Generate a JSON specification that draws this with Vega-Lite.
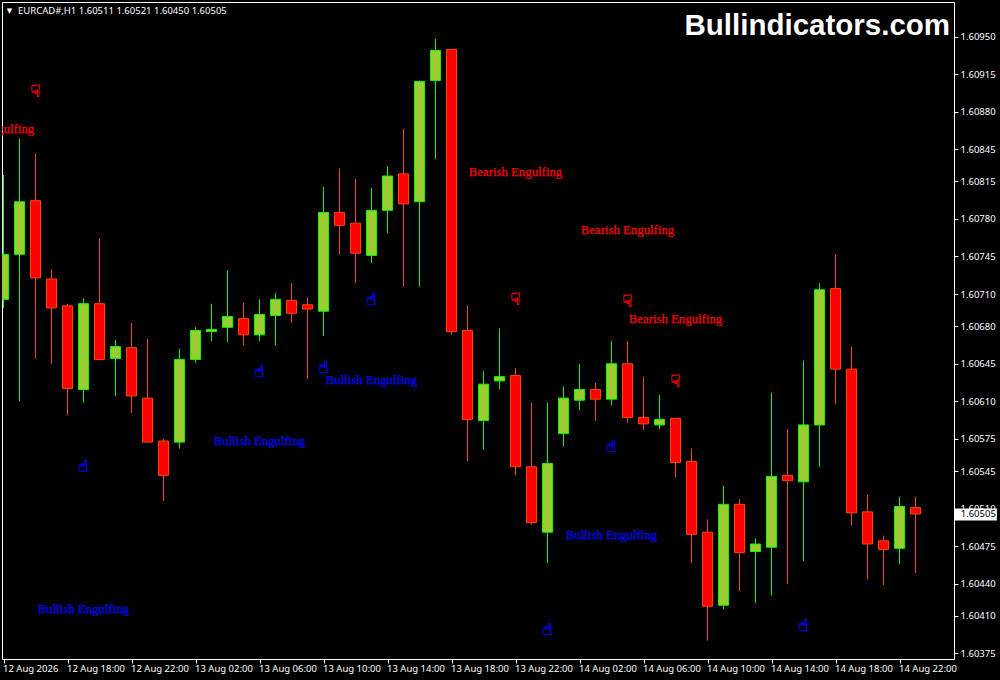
{"$schema":"https://vega.github.io/schema/vega-lite/v6.json","width":952,"height":657,"autosize":{"type":"none"},"padding":{"left":2,"top":2,"right":46,"bottom":21},"background":"#000000","view":{"stroke":"#FFFFFF","strokeWidth":1,"fill":"#000000"},"config":{"text":{"font":"Noto Sans"}},
"datasets":{"candles":[
{"t":"2026-08-12T14:00:00Z","o":1.60705,"h":1.60821,"l":1.60697,"c":1.60747,"d":"up"},
{"t":"2026-08-12T15:00:00Z","o":1.60747,"h":1.60855,"l":1.60610,"c":1.60796,"d":"up"},
{"t":"2026-08-12T16:00:00Z","o":1.60797,"h":1.60841,"l":1.60650,"c":1.60725,"d":"down"},
{"t":"2026-08-12T17:00:00Z","o":1.60724,"h":1.60733,"l":1.60645,"c":1.60697,"d":"down"},
{"t":"2026-08-12T18:00:00Z","o":1.60699,"h":1.60701,"l":1.60597,"c":1.60622,"d":"down"},
{"t":"2026-08-12T19:00:00Z","o":1.60621,"h":1.60706,"l":1.60609,"c":1.60701,"d":"up"},
{"t":"2026-08-12T20:00:00Z","o":1.60701,"h":1.60762,"l":1.60648,"c":1.60649,"d":"down"},
{"t":"2026-08-12T21:00:00Z","o":1.60650,"h":1.60667,"l":1.60615,"c":1.60661,"d":"up"},
{"t":"2026-08-12T22:00:00Z","o":1.60660,"h":1.60683,"l":1.60599,"c":1.60615,"d":"down"},
{"t":"2026-08-12T23:00:00Z","o":1.60613,"h":1.60668,"l":1.60572,"c":1.60572,"d":"down"},
{"t":"2026-08-13T00:00:00Z","o":1.60573,"h":1.60575,"l":1.60517,"c":1.60541,"d":"down"},
{"t":"2026-08-13T01:00:00Z","o":1.60572,"h":1.60659,"l":1.60566,"c":1.60649,"d":"up"},
{"t":"2026-08-13T02:00:00Z","o":1.60649,"h":1.60679,"l":1.60646,"c":1.60676,"d":"up"},
{"t":"2026-08-13T03:00:00Z","o":1.60675,"h":1.60701,"l":1.60666,"c":1.60677,"d":"up"},
{"t":"2026-08-13T04:00:00Z","o":1.60679,"h":1.60732,"l":1.60665,"c":1.60689,"d":"up"},
{"t":"2026-08-13T05:00:00Z","o":1.60687,"h":1.60702,"l":1.60662,"c":1.60672,"d":"down"},
{"t":"2026-08-13T06:00:00Z","o":1.60672,"h":1.60705,"l":1.60666,"c":1.60691,"d":"up"},
{"t":"2026-08-13T07:00:00Z","o":1.60690,"h":1.60711,"l":1.60662,"c":1.60705,"d":"up"},
{"t":"2026-08-13T08:00:00Z","o":1.60704,"h":1.60720,"l":1.60683,"c":1.60692,"d":"down"},
{"t":"2026-08-13T09:00:00Z","o":1.60700,"h":1.60707,"l":1.60631,"c":1.60696,"d":"down"},
{"t":"2026-08-13T10:00:00Z","o":1.60694,"h":1.60810,"l":1.60671,"c":1.60786,"d":"up"},
{"t":"2026-08-13T11:00:00Z","o":1.60786,"h":1.60827,"l":1.60747,"c":1.60774,"d":"down"},
{"t":"2026-08-13T12:00:00Z","o":1.60776,"h":1.60817,"l":1.60720,"c":1.60748,"d":"down"},
{"t":"2026-08-13T13:00:00Z","o":1.60746,"h":1.60809,"l":1.60739,"c":1.60788,"d":"up"},
{"t":"2026-08-13T14:00:00Z","o":1.60788,"h":1.60829,"l":1.60767,"c":1.60820,"d":"up"},
{"t":"2026-08-13T15:00:00Z","o":1.60822,"h":1.60864,"l":1.60717,"c":1.60794,"d":"down"},
{"t":"2026-08-13T16:00:00Z","o":1.60796,"h":1.60909,"l":1.60717,"c":1.60908,"d":"up"},
{"t":"2026-08-13T17:00:00Z","o":1.60909,"h":1.60948,"l":1.60836,"c":1.60937,"d":"up"},
{"t":"2026-08-13T18:00:00Z","o":1.60938,"h":1.60938,"l":1.60672,"c":1.60675,"d":"down"},
{"t":"2026-08-13T19:00:00Z","o":1.60676,"h":1.60699,"l":1.60554,"c":1.60593,"d":"down"},
{"t":"2026-08-13T20:00:00Z","o":1.60592,"h":1.60638,"l":1.60565,"c":1.60626,"d":"up"},
{"t":"2026-08-13T21:00:00Z","o":1.60629,"h":1.60678,"l":1.60621,"c":1.60633,"d":"up"},
{"t":"2026-08-13T22:00:00Z","o":1.60634,"h":1.60641,"l":1.60541,"c":1.60549,"d":"down"},
{"t":"2026-08-13T23:00:00Z","o":1.60549,"h":1.60609,"l":1.60495,"c":1.60497,"d":"down"},
{"t":"2026-08-14T00:00:00Z","o":1.60488,"h":1.60609,"l":1.60459,"c":1.60552,"d":"up"},
{"t":"2026-08-14T01:00:00Z","o":1.60580,"h":1.60624,"l":1.60568,"c":1.60613,"d":"up"},
{"t":"2026-08-14T02:00:00Z","o":1.60611,"h":1.60645,"l":1.60602,"c":1.60621,"d":"up"},
{"t":"2026-08-14T03:00:00Z","o":1.60621,"h":1.60627,"l":1.60592,"c":1.60612,"d":"down"},
{"t":"2026-08-14T04:00:00Z","o":1.60612,"h":1.60666,"l":1.60606,"c":1.60645,"d":"up"},
{"t":"2026-08-14T05:00:00Z","o":1.60645,"h":1.60666,"l":1.60590,"c":1.60595,"d":"down"},
{"t":"2026-08-14T06:00:00Z","o":1.60595,"h":1.60633,"l":1.60583,"c":1.60589,"d":"down"},
{"t":"2026-08-14T07:00:00Z","o":1.60588,"h":1.60616,"l":1.60584,"c":1.60593,"d":"up"},
{"t":"2026-08-14T08:00:00Z","o":1.60594,"h":1.60595,"l":1.60539,"c":1.60553,"d":"down"},
{"t":"2026-08-14T09:00:00Z","o":1.60554,"h":1.60566,"l":1.60459,"c":1.60486,"d":"down"},
{"t":"2026-08-14T10:00:00Z","o":1.60488,"h":1.60500,"l":1.60387,"c":1.60419,"d":"down"},
{"t":"2026-08-14T11:00:00Z","o":1.60420,"h":1.60531,"l":1.60416,"c":1.60514,"d":"up"},
{"t":"2026-08-14T12:00:00Z","o":1.60514,"h":1.60519,"l":1.60433,"c":1.60469,"d":"down"},
{"t":"2026-08-14T13:00:00Z","o":1.60470,"h":1.60482,"l":1.60422,"c":1.60477,"d":"up"},
{"t":"2026-08-14T14:00:00Z","o":1.60474,"h":1.60618,"l":1.60429,"c":1.60540,"d":"up"},
{"t":"2026-08-14T15:00:00Z","o":1.60541,"h":1.60584,"l":1.60440,"c":1.60536,"d":"down"},
{"t":"2026-08-14T16:00:00Z","o":1.60535,"h":1.60648,"l":1.60461,"c":1.60588,"d":"up"},
{"t":"2026-08-14T17:00:00Z","o":1.60588,"h":1.60720,"l":1.60549,"c":1.60714,"d":"up"},
{"t":"2026-08-14T18:00:00Z","o":1.60715,"h":1.60747,"l":1.60607,"c":1.60640,"d":"down"},
{"t":"2026-08-14T19:00:00Z","o":1.60640,"h":1.60661,"l":1.60494,"c":1.60506,"d":"down"},
{"t":"2026-08-14T20:00:00Z","o":1.60507,"h":1.60523,"l":1.60444,"c":1.60477,"d":"down"},
{"t":"2026-08-14T21:00:00Z","o":1.60480,"h":1.60485,"l":1.60439,"c":1.60472,"d":"down"},
{"t":"2026-08-14T22:00:00Z","o":1.60473,"h":1.60521,"l":1.60458,"c":1.60512,"d":"up"},
{"t":"2026-08-14T23:00:00Z","o":1.60511,"h":1.60521,"l":1.60450,"c":1.60505,"d":"down"}
],
"labels":[
{"t":"2026-08-12T13:00:00Z","p":1.60864,"s":"bear","label":"Bearish Engulfing"},
{"t":"2026-08-13T22:00:00Z","p":1.60824,"s":"bear","label":"Bearish Engulfing"},
{"t":"2026-08-14T05:00:00Z","p":1.60770,"s":"bear","label":"Bearish Engulfing"},
{"t":"2026-08-14T08:00:00Z","p":1.60687,"s":"bear","label":"Bearish Engulfing"},
{"t":"2026-08-12T19:00:00Z","p":1.60416,"s":"bull","label":"Bullish Engulfing"},
{"t":"2026-08-13T06:00:00Z","p":1.60573,"s":"bull","label":"Bullish Engulfing"},
{"t":"2026-08-13T13:00:00Z","p":1.60630,"s":"bull","label":"Bullish Engulfing"},
{"t":"2026-08-14T04:00:00Z","p":1.60485,"s":"bull","label":"Bullish Engulfing"}
],
"icons":[
{"t":"2026-08-12T19:00:00Z","p":1.60549,"s":"bull","label":"☝"},
{"t":"2026-08-13T06:00:00Z","p":1.60637,"s":"bull","label":"☝"},
{"t":"2026-08-13T10:00:00Z","p":1.60641,"s":"bull","label":"☝"},
{"t":"2026-08-13T13:00:00Z","p":1.60704,"s":"bull","label":"☝"},
{"t":"2026-08-14T00:00:00Z","p":1.60397,"s":"bull","label":"☝"},
{"t":"2026-08-14T04:00:00Z","p":1.60567,"s":"bull","label":"☝"},
{"t":"2026-08-14T16:00:00Z","p":1.60401,"s":"bull","label":"☝"},
{"t":"2026-08-12T16:00:00Z","p":1.60898,"s":"bear","label":"☟"},
{"t":"2026-08-13T22:00:00Z","p":1.60704,"s":"bear","label":"☟"},
{"t":"2026-08-14T05:00:00Z","p":1.60703,"s":"bear","label":"☟"},
{"t":"2026-08-14T08:00:00Z","p":1.60628,"s":"bear","label":"☟"}
]},
"encoding":{"x":{"field":"t","type":"temporal","scale":{"type":"utc","domain":[1786542862500,1786757062500],"nice":false,"padding":0},"axis":{"title":null,"grid":false,"domain":false,"values":[1786543200000,1786557600000,1786572000000,1786586400000,1786600800000,1786615200000,1786629600000,1786644000000,1786658400000,1786672800000,1786687200000,1786701600000,1786716000000,1786730400000,1786744800000],"tickCount":40,"labelExpr":"datum.index == 0 ? '12 Aug 2026' : utcFormat(datum.value, '%d %b %H:%M')","labelAlign":"left","labelBaseline":"middle","labelPadding":5,"labelOffset":-1,"labelColor":"#FFFFFF","labelFont":"Noto Sans","labelFontSize":9.5,"labelOverlap":false,"labelBound":false,"labelFlush":false,"tickColor":"#FFFFFF","tickSize":4,"tickWidth":1}}},
"layer":[
{"data":{"name":"candles"},"mark":{"type":"rule","strokeWidth":1,"clip":true},"encoding":{"y":{"field":"l","type":"quantitative","scale":{"domain":[1.60369851,1.60982153],"nice":false,"zero":false},"axis":{"title":null,"orient":"right","grid":false,"domain":false,"format":".5f","tickCount":40,"values":[1.6095,1.60915,1.6088,1.60845,1.60815,1.6078,1.60745,1.6071,1.6068,1.60645,1.6061,1.60575,1.60545,1.6051,1.60475,1.6044,1.6041,1.60375],"labelColor":"#FFFFFF","labelFont":"Noto Sans","labelFontSize":9.5,"labelPadding":2,"labelOverlap":false,"labelBound":false,"tickColor":"#FFFFFF","tickSize":4,"tickWidth":1}},"y2":{"field":"h"},"stroke":{"field":"d","type":"nominal","scale":{"domain":["up","down","bull","bear"],"range":["#00FF00","#FF4500","#0000FF","#FF0000"]},"legend":null}}},
{"data":{"name":"candles"},"mark":{"type":"bar","size":10,"strokeWidth":1,"clip":true},"encoding":{"y":{"field":"o","type":"quantitative"},"y2":{"field":"c"},"fill":{"field":"d","type":"nominal","scale":{"domain":["up","down"],"range":["#9ACD32","#FF0000"]},"legend":null},"stroke":{"field":"d","type":"nominal","legend":null}}},
{"data":{"name":"labels"},"mark":{"type":"text","font":"Liberation Serif","fontSize":12.8,"align":"center","baseline":"middle","clip":true,"strokeWidth":0.25},"encoding":{"y":{"field":"p","type":"quantitative"},"text":{"field":"label"},"stroke":{"field":"s","type":"nominal","legend":null},"color":{"field":"s","type":"nominal","scale":{"domain":["bull","bear"],"range":["#0000FF","#FF0000"]},"legend":null}}},
{"data":{"name":"icons"},"mark":{"type":"text","font":"DejaVu Sans","fontSize":17,"align":"center","baseline":"middle","strokeWidth":0.4},"encoding":{"y":{"field":"p","type":"quantitative"},"text":{"field":"label"},"stroke":{"field":"s","type":"nominal","legend":null},"color":{"field":"s","type":"nominal","legend":null}}},
{"data":{"values":[{"t":"2026-08-12T14:54:22Z","p":1.60974,"label":"EURCAD#,H1  1.60511 1.60521 1.60450 1.60505"}]},"mark":{"type":"text","font":"Noto Sans","fontSize":9.5,"align":"left","baseline":"middle","color":"#FFFFFF"},"encoding":{"y":{"field":"p","type":"quantitative"},"text":{"field":"label"}}},
{"data":{"values":[{"t":"2026-08-12T14:22:30Z","p":1.60974,"label":"▼"}]},"mark":{"type":"text","font":"DejaVu Sans","fontSize":7,"align":"center","baseline":"middle","color":"#FFFFFF"},"encoding":{"y":{"field":"p","type":"quantitative"},"text":{"field":"label"}}},
{"data":{"values":[{"t":"2026-08-15T01:09:40Z","p":1.6096,"label":"Bullindicators.com"}]},"mark":{"type":"text","font":"Liberation Sans","fontWeight":"bold","fontSize":29.5,"align":"right","baseline":"middle","color":"#FFFFFF"},"encoding":{"y":{"field":"p","type":"quantitative"},"text":{"field":"label"}}},
{"data":{"values":[{"t":"2026-08-15T01:28:00Z","t2":"2026-08-15T04:05:00Z","p":1.6051,"p2":1.60499}]},"mark":{"type":"rect","fill":"#FFFFFF","clip":false},"encoding":{"x2":{"field":"t2"},"y":{"field":"p","type":"quantitative"},"y2":{"field":"p2"}}},
{"data":{"values":[{"t":"2026-08-15T01:49:30Z","p":1.60505,"label":"1.60505"}]},"mark":{"type":"text","font":"Noto Sans","fontSize":9.5,"align":"left","baseline":"middle","color":"#000000"},"encoding":{"y":{"field":"p","type":"quantitative"},"text":{"field":"label"}}}
]}
